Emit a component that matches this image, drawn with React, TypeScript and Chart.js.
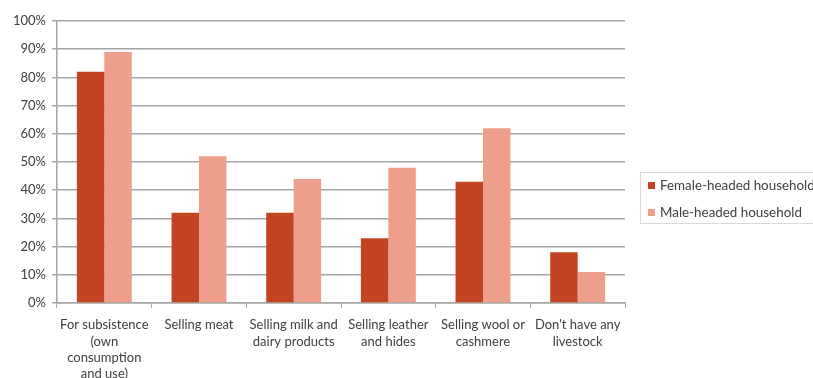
import React, { useEffect, useRef } from "react";
import { Chart, registerables } from "chart.js";

Chart.register(...registerables);

const categories: string[][] = [
  ["For subsistence", "(own", "consumption", "and use)"],
  ["Selling meat"],
  ["Selling milk and", "dairy products"],
  ["Selling leather", "and hides"],
  ["Selling wool or", "cashmere"],
  ["Don't have any", "livestock"],
];
const femaleValues = [82, 32, 32, 23, 43, 18];
const maleValues = [89, 52, 44, 48, 62, 11];
const seriesNames = ["Female-headed household", "Male-headed household"];
const seriesColors = ["#C34423", "#EE9F8B"];

const FONT = "Lato, 'Open Sans', sans-serif";

export default function App() {
  const ref = useRef<HTMLCanvasElement | null>(null);

  useEffect(() => {
    document.body.style.margin = "0";
    const canvas = ref.current;
    if (!canvas) return;
    const chart = new Chart(canvas, {
      type: "bar",
      data: {
        labels: categories,
        datasets: [
          {
            label: seriesNames[0],
            data: femaleValues,
            backgroundColor: seriesColors[0],
            categoryPercentage: 0.58,
            barPercentage: 1,
          },
          {
            label: seriesNames[1],
            data: maleValues,
            backgroundColor: seriesColors[1],
            categoryPercentage: 0.58,
            barPercentage: 1,
          },
        ],
      },
      options: {
        animation: false,
        responsive: false,
        maintainAspectRatio: false,
        layout: { padding: { left: 0, right: 188, top: 21, bottom: 0 } },
        plugins: {
          legend: { display: false },
          tooltip: { enabled: false },
        },
        scales: {
          x: {
            grid: {
              display: true,
              drawOnChartArea: false,
              drawTicks: true,
              tickLength: 5,
              color: "#A6A6A6",
              offset: true,
            },
            border: { display: true, color: "#A6A6A6", width: 1.5 },
            ticks: {
              color: "#404040",
              font: { family: FONT, size: 13, lineHeight: 1.25 },
              padding: 9,
              maxRotation: 0,
              autoSkip: false,
            },
            afterFit: (scale: any) => {
              scale.height = 97;
            },
          },
          y: {
            min: 0,
            max: 100,
            grid: {
              color: "#A6A6A6",
              lineWidth: 1.5,
              tickLength: 5,
            },
            border: { display: true, color: "#A6A6A6", width: 1.5 },
            ticks: {
              stepSize: 10,
              color: "#404040",
              font: { family: FONT, size: 13 },
              padding: 6,
              callback: (v: any) => v + "%",
            },
            afterFit: (scale: any) => {
              scale.width = 57;
            },
          },
        },
      },
    });
    return () => chart.destroy();
  }, []);

  return (
    <div
      style={{
        position: "fixed",
        left: 0,
        top: 0,
        width: 813,
        height: 378,
        overflow: "hidden",
        background: "#fff",
      }}
    >
      <canvas ref={ref} width={813} height={400} style={{ display: "block" }} />
      <div
        style={{
          position: "absolute",
          left: 640,
          top: 172,
          width: 190,
          height: 50,
          border: "1px solid #D9D9D9",
          fontFamily: FONT,
          fontSize: 13.4,
          color: "#404040",
        }}
      >
        {seriesNames.map((n, i) => (
          <div
            key={n}
            style={{
              position: "absolute",
              left: 7,
              top: i === 0 ? 3 : 30,
              display: "flex",
              alignItems: "center",
              whiteSpace: "nowrap",
              height: 18,
            }}
          >
            <span
              style={{
                display: "inline-block",
                width: 7,
                height: 7,
                background: seriesColors[i],
                marginRight: 5,
              }}
            />
            {n}
          </div>
        ))}
      </div>
    </div>
  );
}
